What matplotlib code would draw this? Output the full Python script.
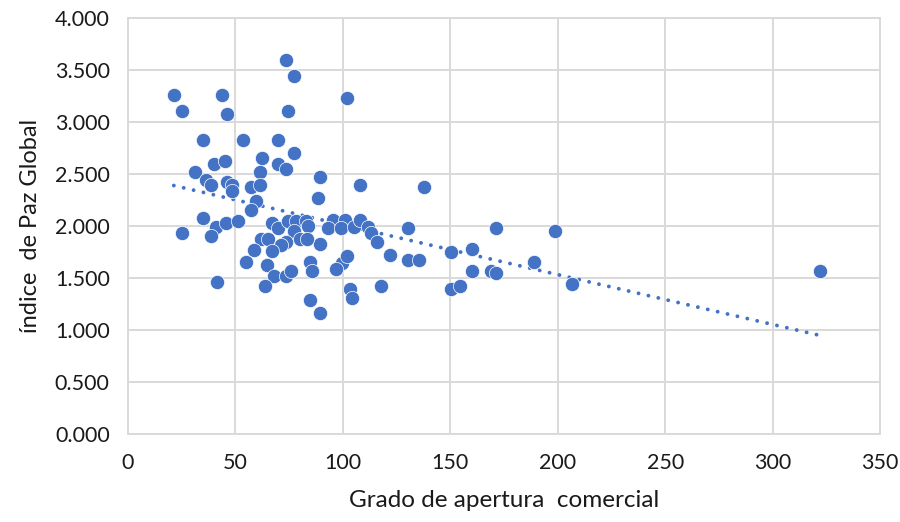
import numpy as np
import matplotlib
matplotlib.use("Agg")
import matplotlib.pyplot as plt
from matplotlib.ticker import FuncFormatter

# grado de apertura comercial (x) vs indice de paz global (y)
apertura = [21.4, 25.1, 43.7, 46.2, 73.5, 77.2, 74.7, 102.0,
            35.0, 53.6, 69.8, 77.2, 62.2, 40.0, 45.0, 69.8, 73.5, 31.3, 61.3, 89.6,
            36.3, 38.8, 46.2, 48.7, 48.7, 57.4, 61.3, 108.0, 137.8, 88.4,
            59.7, 57.4, 35.0, 41.0, 38.8, 45.9, 51.2, 25.1,
            67.1, 69.8, 74.4, 78.3, 82.9, 83.7, 77.5,
            95.5, 100.9, 93.2, 99.4, 105.3, 108.0, 111.8, 113.3, 115.7,
            89.6, 62.0, 65.1, 79.9, 83.3, 73.6, 71.3, 58.6, 67.1,
            130.4, 171.4, 198.6, 150.2, 160.3,
            55.0, 64.8, 84.7, 85.9, 99.5, 101.9, 97.0, 121.9, 130.4, 135.3, 189.0,
            68.2, 73.6, 76.0, 160.3, 168.8, 171.4, 206.5, 321.9,
            41.4, 63.6, 103.3, 104.5, 118.0, 150.5, 154.4, 84.7, 89.6]
paz = [3.26, 3.11, 3.26, 3.08, 3.60, 3.44, 3.11, 3.23,
       2.83, 2.83, 2.83, 2.70, 2.65, 2.60, 2.62, 2.60, 2.55, 2.52, 2.52, 2.47,
       2.44, 2.39, 2.42, 2.39, 2.34, 2.37, 2.39, 2.39, 2.37, 2.27,
       2.24, 2.15, 2.08, 1.99, 1.90, 2.03, 2.05, 1.93,
       2.03, 1.98, 2.05, 2.05, 2.05, 2.00, 1.95,
       2.06, 2.06, 1.98, 1.98, 1.99, 2.06, 1.99, 1.93, 1.85,
       1.83, 1.87, 1.87, 1.87, 1.87, 1.85, 1.82, 1.77, 1.76,
       1.98, 1.98, 1.95, 1.75, 1.78,
       1.65, 1.62, 1.65, 1.57, 1.64, 1.71, 1.59, 1.72, 1.67, 1.67, 1.65,
       1.52, 1.52, 1.57, 1.57, 1.57, 1.55, 1.44, 1.57,
       1.46, 1.42, 1.39, 1.31, 1.42, 1.39, 1.42, 1.29, 1.16]

azul = "#4472C4"
texto = "#1a1a1a"
plt.rcParams["font.family"] = ["Lato", "DejaVu Sans"]

fig = plt.figure(figsize=(9, 5.22), dpi=100)
ax = fig.add_axes([0.142, 0.1686, 0.836, 0.797])

x = np.array(apertura)
y = np.array(paz)
ax.scatter(x, y, s=105, color=azul, edgecolors="white", linewidths=0.5, zorder=3)

# linea de tendencia lineal (punteada)
m, b = np.polyfit(x, y, 1)
xt = np.array([x.min(), x.max()])
ax.plot(xt, m * xt + b, color=azul, linestyle=(0, (0.01, 2.6)), linewidth=2.8,
        dash_capstyle="round", zorder=2)

ax.set_xlim(0, 350)
ax.set_ylim(0, 4)
ax.set_xticks(np.arange(0, 351, 50))
ax.set_yticks(np.arange(0, 4.01, 0.5))
ax.yaxis.set_major_formatter(FuncFormatter(lambda v, p: f"{v:.3f}"))
ax.grid(True, color="#D9D9D9", linewidth=1.4, zorder=0)
ax.set_axisbelow(True)
for s in ax.spines.values():
    s.set_color("#D9D9D9")
    s.set_linewidth(1.4)
ax.tick_params(length=0, labelsize=15.5, colors=texto)
ax.tick_params(axis="x", pad=14)
ax.tick_params(axis="y", pad=13)

ax.set_xlabel("Grado de apertura  comercial", fontsize=17.5, color=texto, labelpad=12)
ax.set_ylabel("índice  de Paz Global", fontsize=17, color=texto, labelpad=10)

fig.savefig("out.png", dpi=100)
